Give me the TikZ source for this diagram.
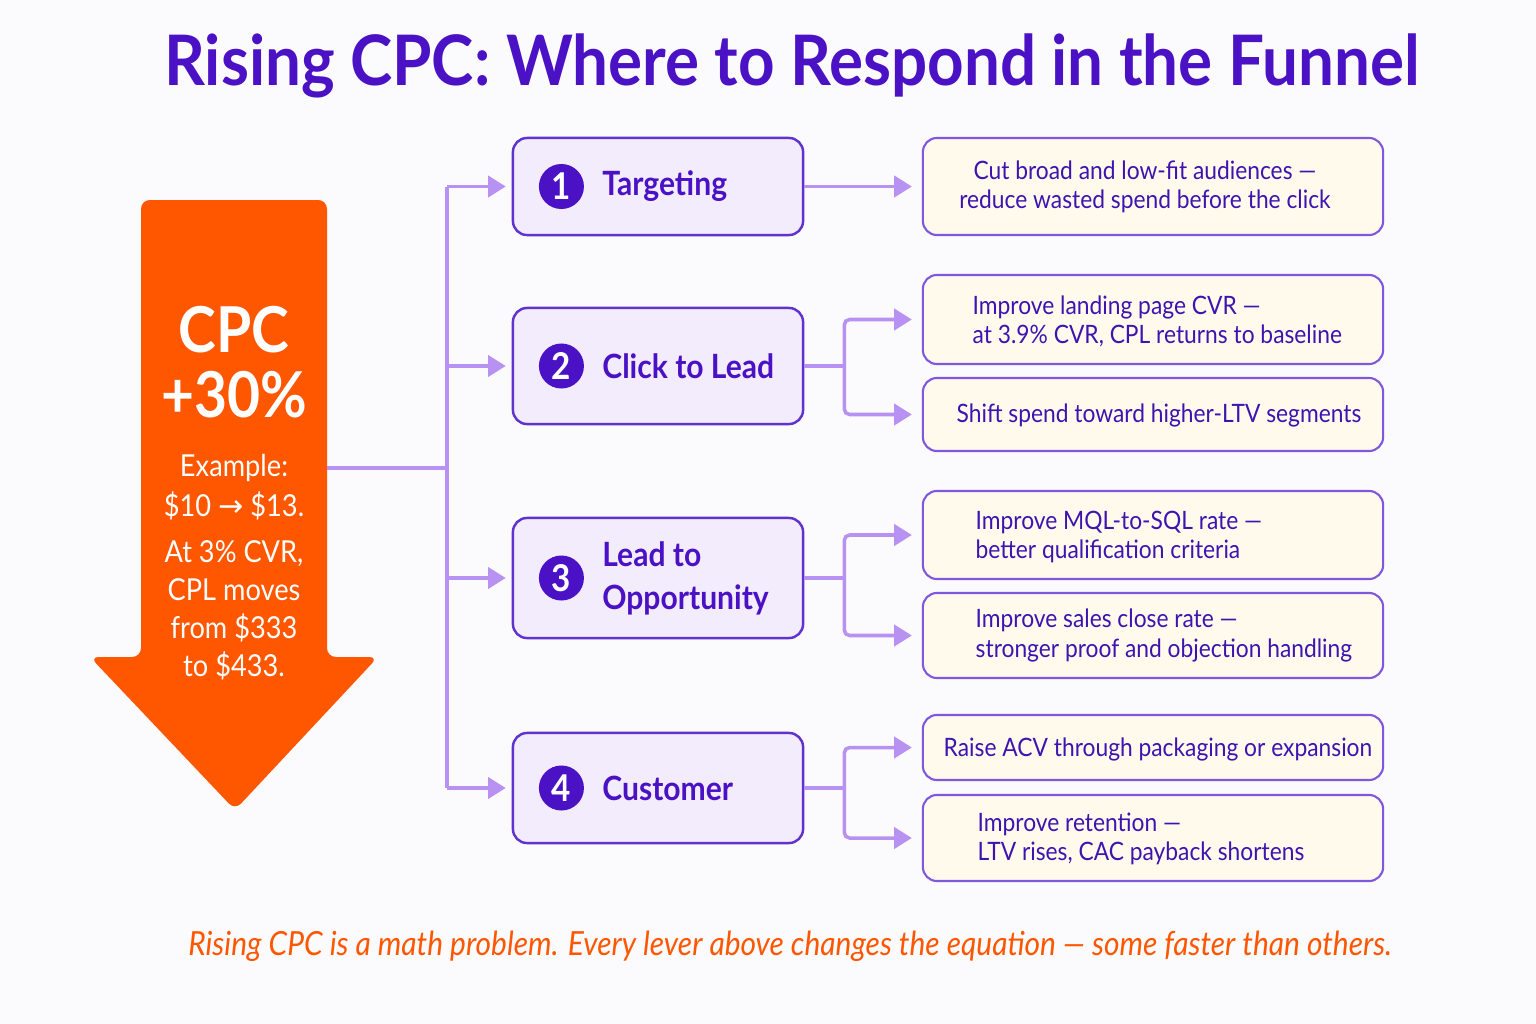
\documentclass[tikz,border=0pt]{standalone}
\usepackage{fontspec}
\setmainfont{Lato}[FakeStretch=0.9]
\newfontfamily\titlefont{Lato}[FakeStretch=0.915]
\newfontfamily\symfont{DejaVu Sans}
\usetikzlibrary{arrows.meta, positioning, calc}
\definecolor{funnel-purple}{RGB}{74,18,196}
\definecolor{funnel-border}{RGB}{96,50,206}
\definecolor{funnel-fill}{RGB}{242,236,253}
\definecolor{lever-fill}{RGB}{255,250,236}
\definecolor{lever-border}{RGB}{128,88,222}
\definecolor{lever-text}{RGB}{62,20,176}
\definecolor{link-purple}{RGB}{184,146,242}
\definecolor{cpc-orange}{RGB}{255,86,0}
\definecolor{page-bg}{RGB}{251,250,252}

\tikzset{
  stage/.style={draw=funnel-border, fill=funnel-fill, line width=0.7pt, rounded corners=4pt, minimum width=2.9cm},
  badge/.style={circle, fill=funnel-purple, text=white, minimum size=0.45cm, inner sep=0pt, font=\fontsize{10.5}{12}\selectfont\bfseries},
  stagelabel/.style={text=funnel-purple, inner sep=0pt, align=left, font=\fontsize{9.5}{12.2}\selectfont\bfseries},
  lever/.style={draw=lever-border, fill=lever-fill, line width=0.6pt, rounded corners=4pt, minimum width=4.6cm},
  levertext/.style={text=lever-text, inner sep=0pt, font=\fontsize{7.2}{8.3}\selectfont},
  link/.style={draw=link-purple, line width=1pt, rounded corners=1.5pt},
  arrowhead/.style={-{Triangle[length=5pt,width=6pt]}, shorten >=1.7pt},
}

\begin{document}
\begin{tikzpicture}[x=0.01cm, y=-0.01cm]
    % Fundo
    \fill[page-bg] (0,0) rectangle (1536,1024);
    \useasboundingbox (0,0) rectangle (1536,1024);

    % Titulo
    \node[anchor=base, text=funnel-purple, font=\titlefont\fontsize{19.8}{24}\selectfont\bfseries] (title) at (792,85) {Rising CPC: Where to Respond in the Funnel};

    % Seta CPC
    \fill[cpc-orange, rounded corners=2.5pt] (141,200) -- (327,200) -- (327,657) -- (378,657)
        -- (235,810) -- (90,657) -- (141,657) -- cycle;
    \node[anchor=base, text=white, font=\fontsize{18}{20}\selectfont\bfseries] (cpc) at (234,352) {CPC};
    \node[anchor=base, text=white, font=\fontsize{18}{20}\selectfont\bfseries] (rise) at (234,417) {+30\%};
    \node[anchor=base, text=white, align=center, font=\fontsize{8.6}{11.3}\selectfont] (example) at (234,516)
        {Example:\\\$10 {\symfont →} \$13.};
    \node[anchor=base, text=white, align=center, font=\fontsize{8.6}{10.8}\selectfont] (cpl) at (234,676)
        {At 3\% CVR,\\CPL moves\\from \$333\\to \$433.};

    % Etapas do funil
    \node[stage, minimum height=0.97cm] (s1) at (658,186.5) {};
    \node[stage, minimum height=1.16cm] (s2) at (658,366) {};
    \node[stage, minimum height=1.20cm] (s3) at (658,578) {};
    \node[stage, minimum height=1.10cm] (s4) at (658,788) {};
    \foreach \i/\txt in {1/Targeting, 2/Click to Lead, 3/{Lead to\\Opportunity}, 4/Customer} {
        \node[badge, right=0.265cm of s\i.west] (b\i) {\i};
        \node[stagelabel, right=0.17cm of b\i] (l\i) {\txt};
    }

    % Alavancas
    \node[lever, minimum height=0.97cm] (rA) at (1153,186.5) {};
    \node[lever, minimum height=0.89cm] (rB) at (1153,319.5) {};
    \node[lever, minimum height=0.73cm] (rC) at (1153,414.5) {};
    \node[lever, minimum height=0.88cm] (rD) at (1153,535) {};
    \node[lever, minimum height=0.85cm] (rE) at (1153,635.5) {};
    \node[lever, minimum height=0.65cm] (rF) at (1153,747.5) {};
    \node[lever, minimum height=0.86cm] (rG) at (1153,838) {};

    \node[levertext, align=center] (tA) at (1145,187) {Cut broad and low-fit audiences —\\reduce wasted spend before the click};
    \node[levertext, align=left, anchor=west] (tB) at (972,321.5) {Improve landing page CVR —\\at 3.9\% CVR, CPL returns to baseline};
    \node[levertext] (tC) at (1159,415) {Shift spend toward higher-LTV segments};
    \node[levertext, align=left, anchor=west] (tD) at (975,537) {Improve MQL-to-SQL rate —\\better qualification criteria};
    \node[levertext, align=left, anchor=west] (tE) at (975,635.5) {Improve sales close rate —\\stronger proof and objection handling};
    \node[levertext] (tF) at (1158,749) {Raise ACV through packaging or expansion};
    \node[levertext, align=left, anchor=west] (tG) at (977,839) {Improve retention —\\LTV rises, CAC payback shortens};

    % Conectores
    \coordinate (cpcR) at (327,468);
    \coordinate (trunk) at (447,468);
    \draw[link] (cpcR) -- (trunk);
    \draw[link] (trunk |- s1.west) -- (trunk |- s4.west);
    \foreach \i in {1,...,4}
        \draw[link, arrowhead] (trunk |- s\i.west) -- (s\i.west);

    \draw[link, arrowhead, shorten >=0.1cm] (s1.east) -- (rA.west);
    \foreach \i/\up/\down in {2/B/C, 3/D/E, 4/F/G} {
        \coordinate[right=0.4cm of s\i.east] (j\i);
        \draw[link] (s\i.east) -- (j\i);
        \draw[link, arrowhead, shorten >=0.1cm] (j\i) |- (r\up.west);
        \draw[link, arrowhead, shorten >=0.1cm] (j\i) |- (r\down.west);
    }

    % Nota
    \node[anchor=base, text=cpc-orange, font=\fontsize{9.45}{11}\selectfont\itshape] (note) at (790,955)
        {Rising CPC is a math problem. Every lever above changes the equation — some faster than others.};
\end{tikzpicture}
\end{document}
